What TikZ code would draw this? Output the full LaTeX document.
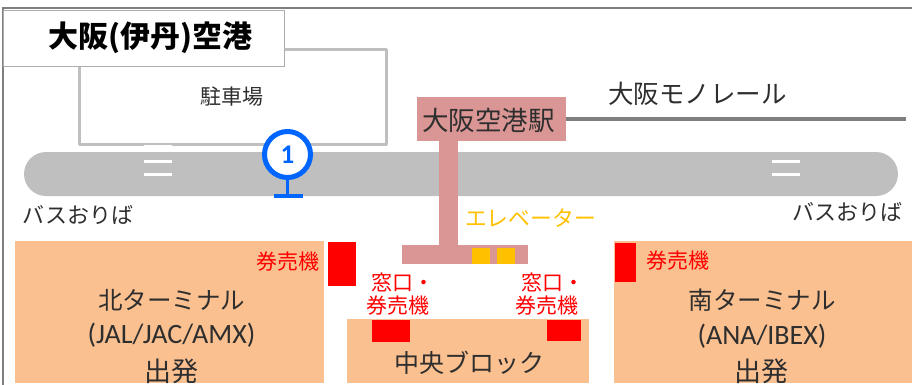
\documentclass[tikz,border=0pt]{standalone}
\usepackage{fontspec}
\setmainfont{Noto Sans CJK JP}
\newfontfamily\latinf{Carlito}
\usetikzlibrary{calc}
\definecolor{roadgray}{HTML}{BFBFBF}
\definecolor{frameline}{HTML}{7F7F7F}
\definecolor{stationpink}{HTML}{D99694}
\definecolor{terminal}{HTML}{FAC090}
\definecolor{lift}{HTML}{FFC000}
\definecolor{pinblue}{HTML}{0066FF}
\definecolor{inktext}{HTML}{2E2E2E}
\tikzset{
  x=1pt,y=-1pt,
  block/.style={inner sep=0pt,outer sep=0pt,anchor=north west},
  terminalbox/.style={block,fill=terminal},
  redbox/.style={block,fill=red},
  liftbox/.style={block,fill=lift},
  label/.style={inner sep=0pt,text=inktext,align=center},
  redlabel/.style={inner sep=0pt,text=red,font=\fontsize{21}{24}\selectfont,align=center},
  whitebar/.style={draw=white,line width=3pt},
}
\newcommand{\sz}[1]{\fontsize{#1}{#1}\selectfont}
\begin{document}
\begin{tikzpicture}
\useasboundingbox (0,0) rectangle (912,385);
% frame
\coordinate (fa) at (3,385);
\coordinate (fb) at (3,8);
\coordinate (fc) at (912,8);
\draw[frameline,line width=1.5pt] (fa) -- (fb) -- (fc);
% parking
\node[block,draw=roadgray,line width=3.5pt,fill=white,minimum width=307pt,minimum height=95pt,line join=round] (parking) at (79.5,49.5) {};
\node[label,font=\sz{21}] (parkingt) at (232,97) {駐車場};
% title
\node[block,draw=roadgray!90!black,line width=1.5pt,fill=white,minimum width=281pt,minimum height=56pt] (title) at (3.5,10.5) {};
\node[inner sep=0pt,font=\sz{30}\bfseries] (titlet) at (150.5,38) {大阪(伊丹)空港};
% bus road
\node[block,fill=roadgray,rounded corners=22pt,minimum width=874pt,minimum height=44pt] (road) at (24,152) {};
\coordinate (b0a) at (144,146.5); \coordinate (b0b) at (172,146.5);
\coordinate (b1a) at (144,161);   \coordinate (b1b) at (172,161);
\coordinate (b2a) at (144,174.5); \coordinate (b2b) at (172,174.5);
\coordinate (b3a) at (772,161);   \coordinate (b3b) at (800,161);
\coordinate (b4a) at (772,174.5); \coordinate (b4b) at (800,174.5);
\draw[whitebar] (b0a) -- (b0b);
\draw[whitebar] (b1a) -- (b1b);
\draw[whitebar] (b2a) -- (b2b);
\draw[whitebar] (b3a) -- (b3b);
\draw[whitebar] (b4a) -- (b4b);
% bus stop pin
\node[circle,draw=pinblue,fill=white,line width=5pt,minimum size=46pt,inner sep=0pt,font=\bfseries\sz{27},text=pinblue] (pin) at (287.5,154.5) {\latinf 1};
\coordinate (pinfoot) at (287.5,196);
\coordinate (pinl) at (274,196); \coordinate (pinr) at (303,196);
\draw[pinblue,line width=3pt] (pin.south) -- (pinfoot);
\draw[pinblue,line width=3.5pt] (pinl) -- (pinr);
% monorail
\coordinate (monoend) at (906,119);
\node[block,fill=stationpink,minimum width=149pt,minimum height=44pt] (station) at (417,97) {};
\node[block,fill=stationpink,minimum width=126pt,minimum height=19pt] (base) at (402,245) {};
\fill[stationpink] (439,141) rectangle (458,245);
\draw[frameline,line width=4pt] (station.east |- monoend) -- (monoend);
\node[label,font=\sz{26.5}] (stationt) at (488.5,120) {大阪空港駅};
\node[label,font=\sz{25.5}] (monot) at (697.5,94) {大阪モノレール};
% elevator
\node[liftbox,minimum width=18pt,minimum height=16pt] (lift1) at (472,248) {};
\node[liftbox,minimum width=18pt,minimum height=16pt] (lift2) at (497,248) {};
\node[inner sep=0pt,text=lift,font=\sz{21.8}] (liftt) at (530.5,218) {エレベーター};
% bus labels
\node[label,font=\sz{22}] (busl) at (78,215) {バスおりば};
\node[label,font=\sz{22}] (busr) at (847,212) {バスおりば};
% north terminal
\node[terminalbox,minimum width=309pt,minimum height=142pt] (north) at (15,241) {};
\node[redbox,minimum width=28pt,minimum height=44pt] (redn) at (328,242) {};
\node[redlabel] (redtn) at (287.5,262) {券売機};
\node[label,font=\sz{24.5}] (n1) at (171.5,300) {北ターミナル};
\node[label,font=\latinf\sz{28}] (n2) at (171.5,335) {(JAL/JAC/AMX)};
\node[label,font=\sz{27}] (n3) at (171.5,371) {出発};
% central block
\node[terminalbox,minimum width=242pt,minimum height=64pt] (central) at (347,319) {};
\node[redbox,minimum width=38pt,minimum height=22pt] (redc1) at (372,320) {};
\node[redbox,minimum width=34pt,minimum height=21pt] (redc2) at (547,320) {};
\node[redlabel] (c1a) at (403,282) {窓口・};
\node[redlabel] (c1b) at (398,306) {券売機};
\node[redlabel] (c2a) at (552.5,282) {窓口・};
\node[redlabel] (c2b) at (547,306) {券売機};
\node[label,font=\sz{25}] (ct) at (469,363) {中央ブロック};
% south terminal
\node[terminalbox,minimum width=298pt,minimum height=142pt] (south) at (614,241) {};
\node[redbox,minimum width=21pt,minimum height=39pt] (reds) at (615,243) {};
\node[redlabel] (redts) at (677.5,261) {券売機};
\node[label,font=\sz{24.5}] (s1) at (762,300) {南ターミナル};
\node[label,font=\latinf\sz{28}] (s2) at (762,336) {(ANA/IBEX)};
\node[label,font=\sz{27}] (s3) at (761,371) {出発};
\end{tikzpicture}
\end{document}
